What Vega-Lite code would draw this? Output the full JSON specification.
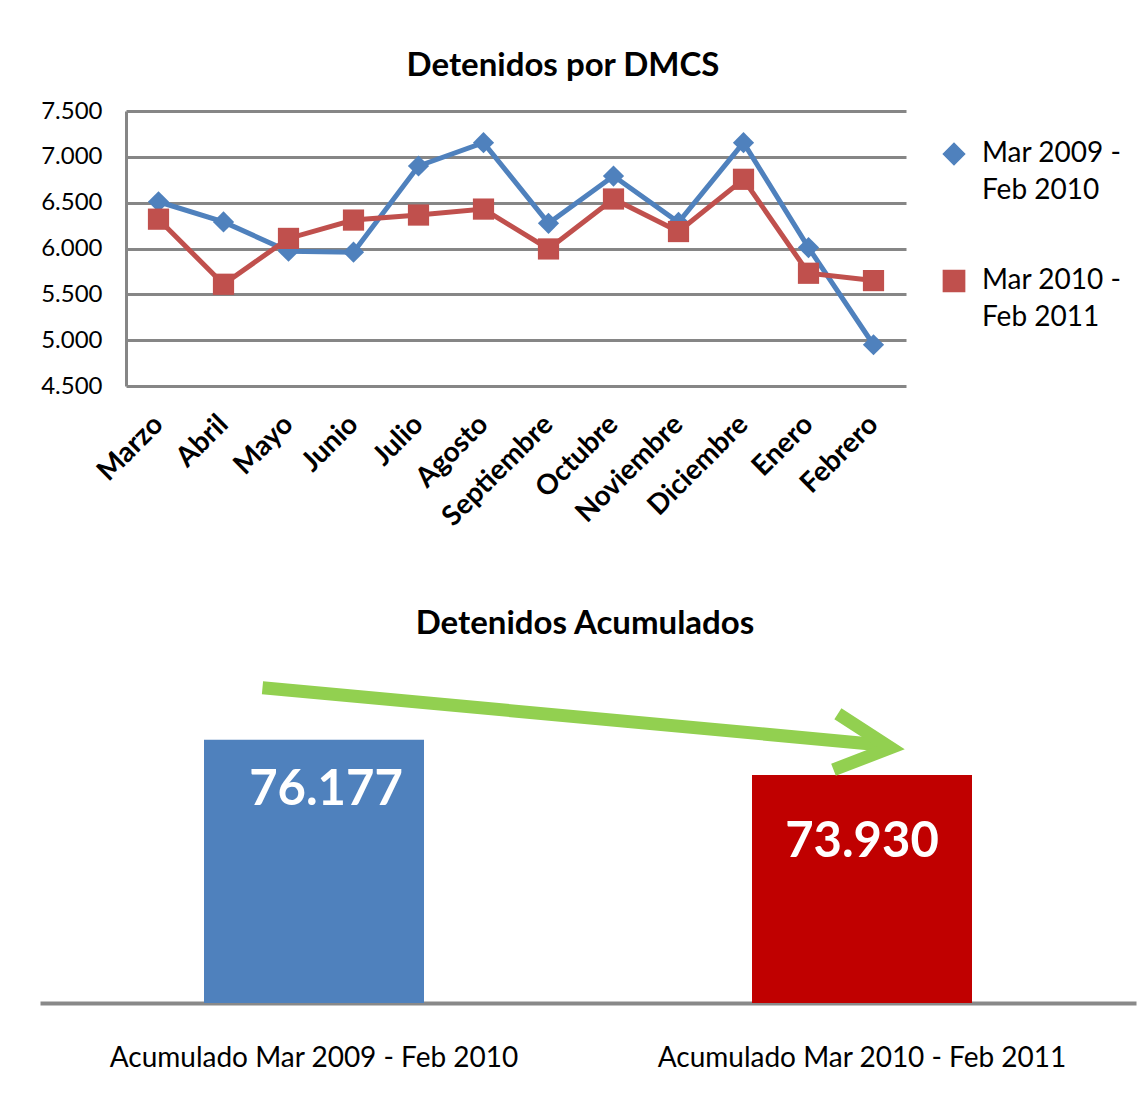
{
  "$schema": "https://vega.github.io/schema/vega-lite/v6.json",
  "background": "white",
  "padding": {"left": 40, "top": 50, "right": 0, "bottom": 0},
  "config": {
    "locale": {"number": {"decimal": ",", "thousands": ".", "grouping": [3], "currency": ["", ""]}},
    "font": "Lato",
    "view": {"stroke": null},
    "title": {"fontSize": 33, "fontWeight": "bold", "color": "#000000", "font": "Lato", "anchor": "middle"},
    "style": {"guide-label": {"lineHeight": 37}}
  },
  "spacing": 76,
  "resolve": {
    "scale": {"color": "independent", "shape": "independent"},
    "legend": {"color": "independent", "shape": "independent"}
  },
  "vconcat": [
    {
      "title": {"text": "Detenidos por DMCS", "offset": 16, "dx": 47},
      "width": 780,
      "height": 275,
      "data": {
        "values": [
          {"mes": "Marzo", "serie": "Mar 2009 - Feb 2010", "valor": 6510},
          {"mes": "Abril", "serie": "Mar 2009 - Feb 2010", "valor": 6290},
          {"mes": "Mayo", "serie": "Mar 2009 - Feb 2010", "valor": 5970},
          {"mes": "Junio", "serie": "Mar 2009 - Feb 2010", "valor": 5960},
          {"mes": "Julio", "serie": "Mar 2009 - Feb 2010", "valor": 6900},
          {"mes": "Agosto", "serie": "Mar 2009 - Feb 2010", "valor": 7155},
          {"mes": "Septiembre", "serie": "Mar 2009 - Feb 2010", "valor": 6275},
          {"mes": "Octubre", "serie": "Mar 2009 - Feb 2010", "valor": 6790},
          {"mes": "Noviembre", "serie": "Mar 2009 - Feb 2010", "valor": 6285},
          {"mes": "Diciembre", "serie": "Mar 2009 - Feb 2010", "valor": 7155},
          {"mes": "Enero", "serie": "Mar 2009 - Feb 2010", "valor": 6010},
          {"mes": "Febrero", "serie": "Mar 2009 - Feb 2010", "valor": 4950},
          {"mes": "Marzo", "serie": "Mar 2010 - Feb 2011", "valor": 6320},
          {"mes": "Abril", "serie": "Mar 2010 - Feb 2011", "valor": 5610},
          {"mes": "Mayo", "serie": "Mar 2010 - Feb 2011", "valor": 6110},
          {"mes": "Junio", "serie": "Mar 2010 - Feb 2011", "valor": 6310},
          {"mes": "Julio", "serie": "Mar 2010 - Feb 2011", "valor": 6365},
          {"mes": "Agosto", "serie": "Mar 2010 - Feb 2011", "valor": 6430},
          {"mes": "Septiembre", "serie": "Mar 2010 - Feb 2011", "valor": 5995},
          {"mes": "Octubre", "serie": "Mar 2010 - Feb 2011", "valor": 6540},
          {"mes": "Noviembre", "serie": "Mar 2010 - Feb 2011", "valor": 6185},
          {"mes": "Diciembre", "serie": "Mar 2010 - Feb 2011", "valor": 6755},
          {"mes": "Enero", "serie": "Mar 2010 - Feb 2011", "valor": 5730},
          {"mes": "Febrero", "serie": "Mar 2010 - Feb 2011", "valor": 5650}
        ]
      },
      "mark": {"type": "line", "strokeWidth": 5, "point": {"filled": true, "size": 450, "opacity": 1}},
      "encoding": {
        "x": {
          "field": "mes", "type": "ordinal",
          "sort": ["Marzo", "Abril", "Mayo", "Junio", "Julio", "Agosto", "Septiembre", "Octubre", "Noviembre", "Diciembre", "Enero", "Febrero"],
          "scale": {"type": "point", "padding": 0.5},
          "axis": {"title": null, "labelAngle": -45, "labelAlign": "right", "labelBaseline": "middle", "labelFontSize": 28, "labelFontWeight": "bold", "labelColor": "#000000", "ticks": false, "domain": false, "grid": false, "labelPadding": 34}
        },
        "y": {
          "field": "valor", "type": "quantitative",
          "scale": {"domain": [4500, 7500], "zero": false, "nice": false},
          "axis": {"title": null, "values": [4500, 5000, 5500, 6000, 6500, 7000, 7500], "format": ",.0f", "labelFontSize": 24, "labelColor": "#000000", "ticks": false, "domainColor": "#868686", "domainWidth": 3, "gridColor": "#868686", "gridWidth": 3, "labelPadding": 24}
        },
        "color": {
          "field": "serie", "type": "nominal",
          "scale": {"domain": ["Mar 2009 - Feb 2010", "Mar 2010 - Feb 2011"], "range": ["#4F81BD", "#C0504D"]},
          "legend": {"title": null, "orient": "none", "legendX": 814, "legendY": 29, "labelFontSize": 28, "labelColor": "#000000", "labelLimit": 400, "labelExpr": "[slice(datum.label,0,10), slice(datum.label,11)]", "labelBaseline": "middle", "symbolSize": 450, "rowPadding": 62, "padding": 0, "labelOffset": 14}
        },
        "shape": {
          "field": "serie", "type": "nominal",
          "scale": {"domain": ["Mar 2009 - Feb 2010", "Mar 2010 - Feb 2011"], "range": ["diamond", "square"]},
          "legend": {"title": null, "orient": "none", "legendX": 814, "legendY": 29, "labelFontSize": 28, "labelColor": "#000000", "labelLimit": 400, "labelExpr": "[slice(datum.label,0,10), slice(datum.label,11)]", "labelBaseline": "middle", "symbolSize": 450, "rowPadding": 62, "padding": 0, "labelOffset": 14}
        }
      }
    },
    {
      "title": {"text": "Detenidos Acumulados", "offset": 19, "dx": -46},
      "width": 1010,
      "height": 343,
      "layer": [
        {
          "data": {
            "values": [
              {"periodo": "Acumulado Mar 2009 - Feb 2010", "total": 76177},
              {"periodo": "Acumulado Mar 2010 - Feb 2011", "total": 73930}
            ]
          },
          "encoding": {
            "x": {
              "field": "periodo", "type": "nominal", "sort": null,
              "scale": {"paddingInner": 0, "paddingOuter": 0, "range": [-86, 1010]},
              "axis": {"title": null, "labelAngle": 0, "labelFontSize": 28, "labelColor": "#000000", "ticks": false, "domainColor": "#898989", "domainWidth": 4, "labelPadding": 41, "labelLimit": 600}
            },
            "y": {
              "field": "total", "type": "quantitative",
              "scale": {"domain": [59300, 81300], "zero": false, "nice": false},
              "axis": null
            }
          },
          "layer": [
            {
              "mark": {"type": "bar", "size": 220, "clip": true},
              "encoding": {
                "color": {"field": "periodo", "type": "nominal", "scale": {"range": ["#4F81BD", "#C00000"]}, "legend": null}
              }
            },
            {
              "transform": [{"filter": "datum.total > 75000"}],
              "mark": {"type": "text", "color": "white", "fontSize": 49, "fontWeight": "bold", "baseline": "middle", "dy": 50, "dx": 12},
              "encoding": {"text": {"field": "total", "type": "quantitative", "format": ",.0f"}}
            },
            {
              "transform": [{"filter": "datum.total < 75000"}],
              "mark": {"type": "text", "color": "white", "fontSize": 49, "fontWeight": "bold", "baseline": "middle", "dy": 67, "dx": 0},
              "encoding": {"text": {"field": "total", "type": "quantitative", "format": ",.0f"}}
            }
          ]
        },
        {
          "data": {
            "values": [
              {"seg": "shaft", "ord": 1, "ax": 20.3, "ay": 79523},
              {"seg": "shaft", "ord": 2, "ax": 76.8, "ay": 75850},
              {"seg": "head", "ord": 1, "ax": 72.8, "ay": 77854},
              {"seg": "head", "ord": 2, "ax": 77.6, "ay": 75671},
              {"seg": "head", "ord": 3, "ax": 72.4, "ay": 74259}
            ]
          },
          "mark": {"type": "line", "color": "#92D050", "strokeWidth": 13, "strokeCap": "butt", "strokeJoin": "miter"},
          "encoding": {
            "x": {"field": "ax", "type": "quantitative", "scale": {"domain": [0, 100], "nice": false, "zero": false, "range": [-86, 1010]}, "axis": null},
            "y": {"field": "ay", "type": "quantitative"},
            "detail": {"field": "seg", "type": "nominal"},
            "order": {"field": "ord", "type": "quantitative"}
          }
        }
      ],
      "resolve": {"scale": {"x": "independent"}}
    }
  ]
}
